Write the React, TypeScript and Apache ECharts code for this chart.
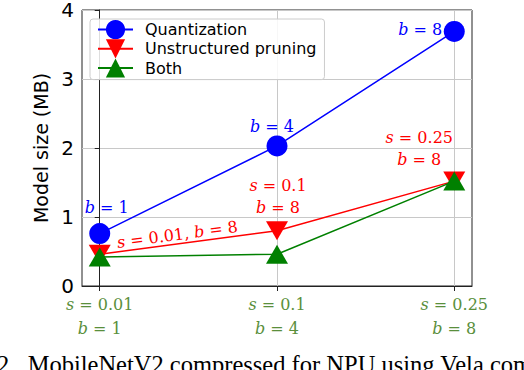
import React, { useEffect, useRef } from "react";
import * as echarts from "echarts";

const sparsity = ["0.01", "0.1", "0.25"];
const bits = ["1", "4", "8"];
const quantization = [0.76, 2.03, 3.69];
const pruning = [0.46, 0.8, 1.52];
const both = [0.42, 0.46, 1.52];
const yTicks = [0, 1, 2, 3, 4];
const seriesNames = ["Quantization", "Unstructured pruning", "Both"];

const MATH_FONT = "DejaVu Serif";
const GREEN_TXT = "#5a8f3c";

function axisRich(color: string, size: number, lh: number) {
  return {
    i: { fontStyle: "italic", fontFamily: MATH_FONT, fontSize: size, color, lineHeight: lh },
    n: { fontFamily: MATH_FONT, fontSize: size, color, lineHeight: lh },
  };
}
function gRich(color: string, size: number, lh: number) {
  return {
    i: { fontStyle: "italic", fontFamily: MATH_FONT, fontSize: size, fill: color, lineHeight: lh },
    n: { fontFamily: MATH_FONT, fontSize: size, fill: color, lineHeight: lh },
  };
}

export default function App() {
  const ref = useRef<HTMLDivElement>(null);
  useEffect(() => {
    if (!ref.current) return;
    const chart = echarts.init(ref.current, null, { renderer: "svg" });
    const toData = (arr: number[]) => arr.map((v, i) => [i, v]);
    chart.setOption({
      animation: false,
      grid: {
        left: 82,
        right: 52,
        top: 10,
        bottom: 84,
        show: true,
        borderColor: "#222",
        borderWidth: 1,
        backgroundColor: "transparent",
      },
      legend: {
        orient: "vertical",
        left: 90,
        top: 19,
        padding: [1, 8, 2, 7],
        itemGap: 0,
        itemWidth: 35,
        itemHeight: 24,
        backgroundColor: "rgba(255,255,255,0.85)",
        borderColor: "#cccccc",
        borderWidth: 1,
        borderRadius: 3,
        textStyle: { fontFamily: "DejaVu Sans", fontSize: 16, color: "#000", padding: [0, 0, 0, 7] },
        data: seriesNames,
      },
      xAxis: {
        type: "value",
        min: -0.1,
        max: 2.1,
        axisLine: { show: true, lineStyle: { color: "#222", width: 1 } },
        axisTick: { show: true, length: 5, lineStyle: { color: "#222" }, customValues: [0, 1, 2] },
        splitLine: { show: true, lineStyle: { color: "#c8c8c8", width: 1 } },
        axisLabel: {
          customValues: [0, 1, 2],
          margin: 6,
          fontFamily: MATH_FONT,
          fontSize: 16,
          color: GREEN_TXT,
          lineHeight: 24,
          formatter: (v: number) => {
            const i = Math.round(v);
            return `{i|s}{n| = ${sparsity[i]}}\n{i|b}{n| = ${bits[i]}}`;
          },
          rich: axisRich(GREEN_TXT, 16, 24),
        },
      },
      yAxis: {
        type: "value",
        min: yTicks[0],
        max: yTicks[yTicks.length - 1],
        interval: 1,
        name: "Model size (MB)",
        nameLocation: "middle",
        nameGap: 29,
        nameTextStyle: { fontFamily: "DejaVu Sans", fontSize: 19, color: "#000" },
        axisLine: { show: true, lineStyle: { color: "#222", width: 1 } },
        axisTick: { show: true, length: 5, lineStyle: { color: "#222" } },
        splitLine: { show: true, lineStyle: { color: "#c8c8c8", width: 1 } },
        axisLabel: { fontFamily: "DejaVu Sans", fontSize: 20, color: "#000", margin: 8 },
      },
      series: [
        {
          name: seriesNames[0],
          type: "line",
          data: toData(quantization),
          symbol: "circle",
          symbolSize: 21,
          lineStyle: { color: "#0000ff", width: 1.5 },
          itemStyle: { color: "#0000ff" },
        },
        {
          name: seriesNames[1],
          type: "line",
          data: toData(pruning),
          symbol: "triangle",
          symbolRotate: 180,
          symbolSize: [22, 19],
          lineStyle: { color: "#ff0000", width: 1.5 },
          itemStyle: { color: "#ff0000" },
        },
        {
          name: seriesNames[2],
          type: "line",
          data: toData(both),
          symbol: "triangle",
          symbolSize: [22, 19],
          lineStyle: { color: "#008000", width: 1.5 },
          itemStyle: { color: "#008000" },
        },
      ],
    });

    const px = (i: number, v: number) => chart.convertToPixel({ gridIndex: 0 }, [i, v]) as number[];
    const q = quantization.map((v, i) => px(i, v));
    const r = pruning.map((v, i) => px(i, v));
    const blueRich = gRich("#0000ff", 16, 22);
    const redRich = gRich("#ff0000", 16, 22);
    const mk = (x: number, y: number, text: string, rich: any, fill: string, align = "center", rotation = 0) => ({
      type: "text",
      x,
      y,
      rotation,
      z: 100,
      style: { text, rich, fill, align, verticalAlign: "middle", fontFamily: MATH_FONT, fontSize: 16 },
    });
    const angle = Math.atan2(r[0][1] - r[1][1], r[1][0] - r[0][0]);
    chart.setOption({
      graphic: [
        mk(q[0][0] + 7, q[0][1] - 26, `{i|b}{n| = ${bits[0]}}`, blueRich, "#0000ff"),
        mk(q[1][0] - 5, q[1][1] - 19, `{i|b}{n| = ${bits[1]}}`, blueRich, "#0000ff"),
        mk(q[2][0] - 12, q[2][1] - 2, `{i|b}{n| = ${bits[2]}}`, blueRich, "#0000ff", "right"),
        mk(r[1][0] + 1, r[1][1] - 34, `{i|s}{n| = ${sparsity[1]}}\n{i|b}{n| = 8}`, redRich, "#ff0000"),
        mk(r[2][0] - 35, r[2][1] - 33, `{i|s}{n| = ${sparsity[2]}}\n{i|b}{n| = 8}`, redRich, "#ff0000"),
        mk(
          (r[0][0] + r[1][0]) / 2 - 11,
          (r[0][1] + r[1][1]) / 2 - 8,
          `{i|s}{n| = ${sparsity[0]}, }{i|b}{n| = 8}`,
          redRich,
          "#ff0000",
          "center",
          angle
        ),
        {
          type: "text",
          x: -3,
          y: 352,
          style: {
            text: "2.  MobileNetV2 compressed for NPU using Vela compiler.",
            fontFamily: "Liberation Serif",
            fontSize: 24.5,
            fill: "#000",
          },
        },
      ],
    });
    return () => chart.dispose();
  }, []);
  return <div ref={ref} style={{ position: "absolute", left: 0, top: 0, width: 524, height: 370 }} />;
}
